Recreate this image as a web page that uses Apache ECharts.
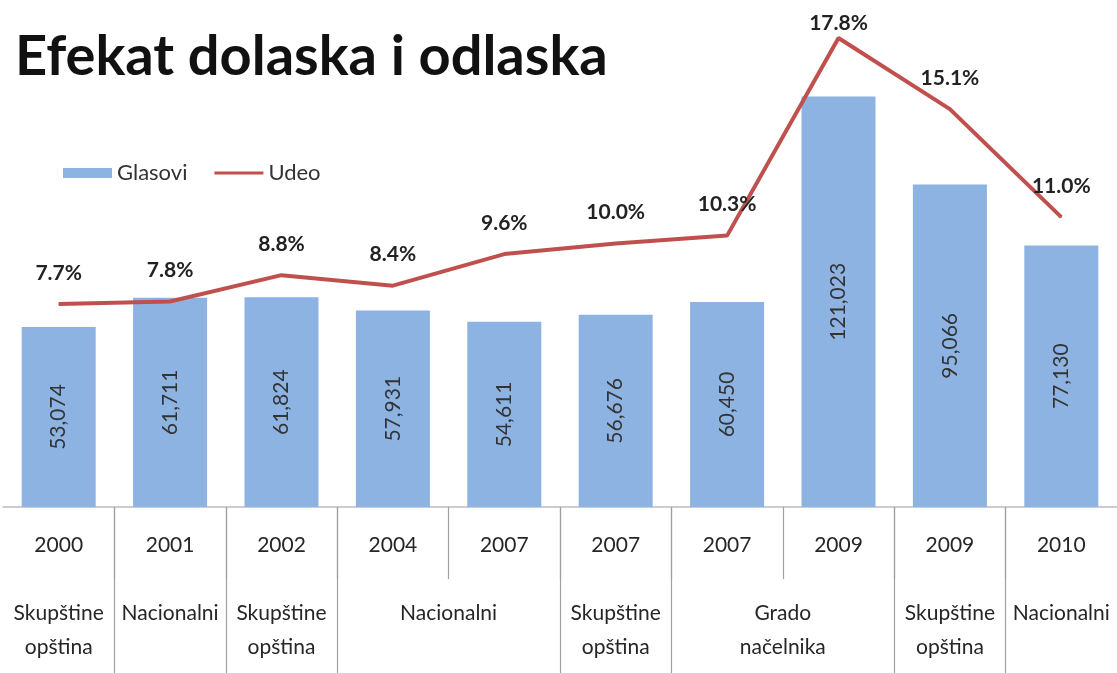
<!DOCTYPE html>
<html><head><meta charset="utf-8">
<script src="https://cdn.jsdelivr.net/npm/echarts@6/dist/echarts.min.js"></script>
<style>html,body{margin:0;padding:0;background:#fff}#c{width:1117px;height:673px}</style>
</head><body><div id="c"></div>
<script>
var titleText = 'Efekat dolaska i odlaska';
var years = ['2000','2001','2002','2004','2007','2007','2007','2009','2009','2010'];
var glasovi = [53074, 61711, 61824, 57931, 54611, 56676, 60450, 121023, 95066, 77130];
var udeo = [7.7, 7.8, 8.8, 8.4, 9.6, 10.0, 10.3, 17.8, 15.1, 11.0];
// election type groups: [label, number of categories]
var groups = [['Skupštine\nopština',1],['Nacionalni',1],['Skupštine\nopština',1],['Nacionalni',2],['Skupštine\nopština',1],['Grado\nnačelnika',2],['Skupštine\nopština',1],['Nacionalni',1]];

// half-slot helper axis (21 points from left edge to right edge)
var half = [], labelIdx = {}, groupTick = {}, pos = 0;
groups.forEach(function(g){ labelIdx[pos + g[1]] = g[0]; pos += 2*g[1]; groupTick[pos] = true; });
for (var k = 0; k <= 2*years.length; k++) half.push(labelIdx[k] || '');

var font = 'Lato, "Open Sans", sans-serif';
var chart = echarts.init(document.getElementById('c'), null, {renderer:'canvas'});
chart.setOption({
  animation:false,
  backgroundColor:'#ffffff',
  title:{text:titleText,left:10,top:24,textStyle:{fontFamily:font,fontWeight:'bold',fontSize:56,color:'#111'}},
  legend:{left:58,top:157,itemWidth:49,itemHeight:10,itemGap:27,
    textStyle:{fontFamily:font,fontSize:22,color:'#333'},
    data:[{name:'Glasovi',icon:'rect'},{name:'Udeo',icon:'path://M0,0L50,0L50,3L0,3Z'}]},
  grid:{left:3,right:0,top:38,bottom:166},
  xAxis:[
    {type:'category',data:years,position:'bottom',
     axisLine:{show:true,lineStyle:{color:'#bcbcbc',width:1.5}},
     axisTick:{show:false},
     axisLabel:{margin:28,fontFamily:font,fontSize:21,color:'#262626'}},
    {type:'category',data:half,boundaryGap:false,position:'bottom',
     axisLine:{show:false},
     axisTick:{show:true,length:170,interval:function(i){return i>0 && i<2*years.length && !!groupTick[i];},lineStyle:{color:'#a0a0a0',width:1.2}},
     axisLabel:{margin:89,lineHeight:34,fontFamily:font,fontSize:21,color:'#262626',interval:function(i){return !!labelIdx[i];}}},
    {type:'category',data:half.map(function(){return '';}),boundaryGap:false,position:'bottom',
     axisLine:{show:false},
     axisTick:{show:true,length:72,interval:function(i){return i>0 && i<2*years.length && i%2===0;},lineStyle:{color:'#a0a0a0',width:1.2}},
     axisLabel:{show:false}}
  ],
  yAxis:[
    {type:'value',min:0,max:138300,show:false,splitLine:{show:false}},
    {type:'value',min:0,max:17.8,show:false,splitLine:{show:false}}
  ],
  series:[
    {name:'Glasovi',type:'bar',data:glasovi,barWidth:74,itemStyle:{color:'#8db3e2'},
     label:{show:true,position:'inside',rotate:90,fontFamily:font,fontSize:21,color:'#333',
       formatter:function(p){return p.value.toLocaleString('en-US');}}},
    {name:'Udeo',type:'line',yAxisIndex:1,clip:false,data:udeo.map(function(v,i){return i===7?{value:v,label:{distance:4}}:v;}),
     symbol:'circle',symbolSize:1,showSymbol:true,lineStyle:{color:'#c0504d',width:4},itemStyle:{color:'#c0504d'},
     label:{show:true,position:'top',distance:20,fontFamily:font,fontWeight:'bold',fontSize:21,color:'#222',
       formatter:function(p){return p.value.toFixed(1)+'%';}}}
  ]
});
</script></body></html>
